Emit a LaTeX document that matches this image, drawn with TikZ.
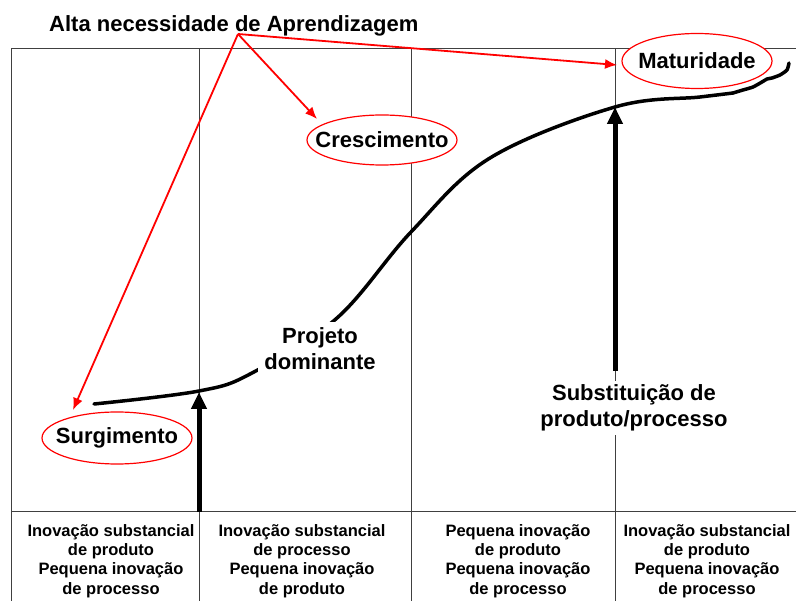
\documentclass[tikz,border=0pt]{standalone}
\usepackage{fontspec}
\setmainfont{Liberation Sans}
\usetikzlibrary{arrows.meta,shapes.geometric}
\begin{document}
\begin{tikzpicture}[x=1pt,y=-1pt,
  grid/.style={draw=black!75, line width=1pt},
  stage/.style={ellipse, draw=red, line width=1.2pt, fill=white, minimum width=150pt, minimum height=52pt, inner xsep=-16pt, inner ysep=0pt, font=\fontsize{22}{26}\selectfont\bfseries},
  big/.style={font=\fontsize{22}{26}\selectfont\bfseries, align=center},
  cell/.style={font=\fontsize{16.5}{19.3}\selectfont\bfseries, align=center, inner sep=0pt},
  redarrow/.style={draw=red, line width=1.8pt, -{Latex[length=12pt,width=10pt]}},
  blackarrow/.style={draw=black, line width=5pt, -{Triangle[length=17pt,width=15pt]}}
]
\useasboundingbox (0,0) rectangle (796,601);
% frame and columns
\draw[grid] (11,601) -- (11,49) -- (796,49);
\draw[grid] (11,512) -- (796,512);
\draw[grid] (199,49) -- (199,601);
\draw[grid] (411,49) -- (411,601);
\draw[grid] (615,49) -- (615,601);
% life-cycle curve
\draw[line width=3.5pt, line cap=round] plot[smooth, tension=0.6] coordinates {(94,404) (199,391) (252,373) (337,318) (411,232) (490,158) (615,107) (700,97) (733,93)};
\draw[line width=3.5pt, line cap=round] plot[smooth, tension=0.35] coordinates {(733,93) (743,90) (753,87) (762,82) (767,79) (772,78) (780,75) (787,70) (789,63)};
% text on white
\node[big, fill=white, inner sep=6pt] (proj) at (320,349) {Projeto\\dominante};
\node[big, fill=white, inner sep=4pt] (subst) at (634,408) {Substituição de\\produto/processo};
% stages
\node[stage] (surg) at (117,438) {Surgimento};
\node[stage, minimum height=50pt] (cresc) at (382,140) {Crescimento};
\node[stage, minimum height=55pt] (mat) at (697,61) {Maturidade};
% title
\node[big, anchor=base west, inner sep=0pt] (title) at (49,32) {Alta necessidade de Aprendizagem};
% red arrows
\coordinate (src) at (238,34);
\coordinate (surgtip) at (73,410);
\coordinate (cresctip) at (317,119);
\coordinate (mattip) at (617,65);
\draw[redarrow] (src) -- (surgtip);
\draw[redarrow] (src) -- (cresctip);
\draw[redarrow] (src) -- (mattip);
% black arrows
\coordinate (b1s) at (199,512);
\coordinate (b1e) at (199,392);
\coordinate (b2s) at (615,371);
\coordinate (b2e) at (615,107);
\draw[blackarrow] (b1s) -- (b1e);
\draw[blackarrow] (b2s) -- (b2e);
% bottom cells
\node[cell] (c1) at (111,561) {Inovação substancial\\de produto\\Pequena inovação\\de processo};
\node[cell] (c2) at (302,561) {Inovação substancial\\de processo\\Pequena inovação\\de produto};
\node[cell] (c3) at (518,561) {Pequena inovação\\de produto\\Pequena inovação\\de processo};
\node[cell] (c4) at (707,561) {Inovação substancial\\de produto\\Pequena inovação\\de processo};
\end{tikzpicture}
\end{document}
